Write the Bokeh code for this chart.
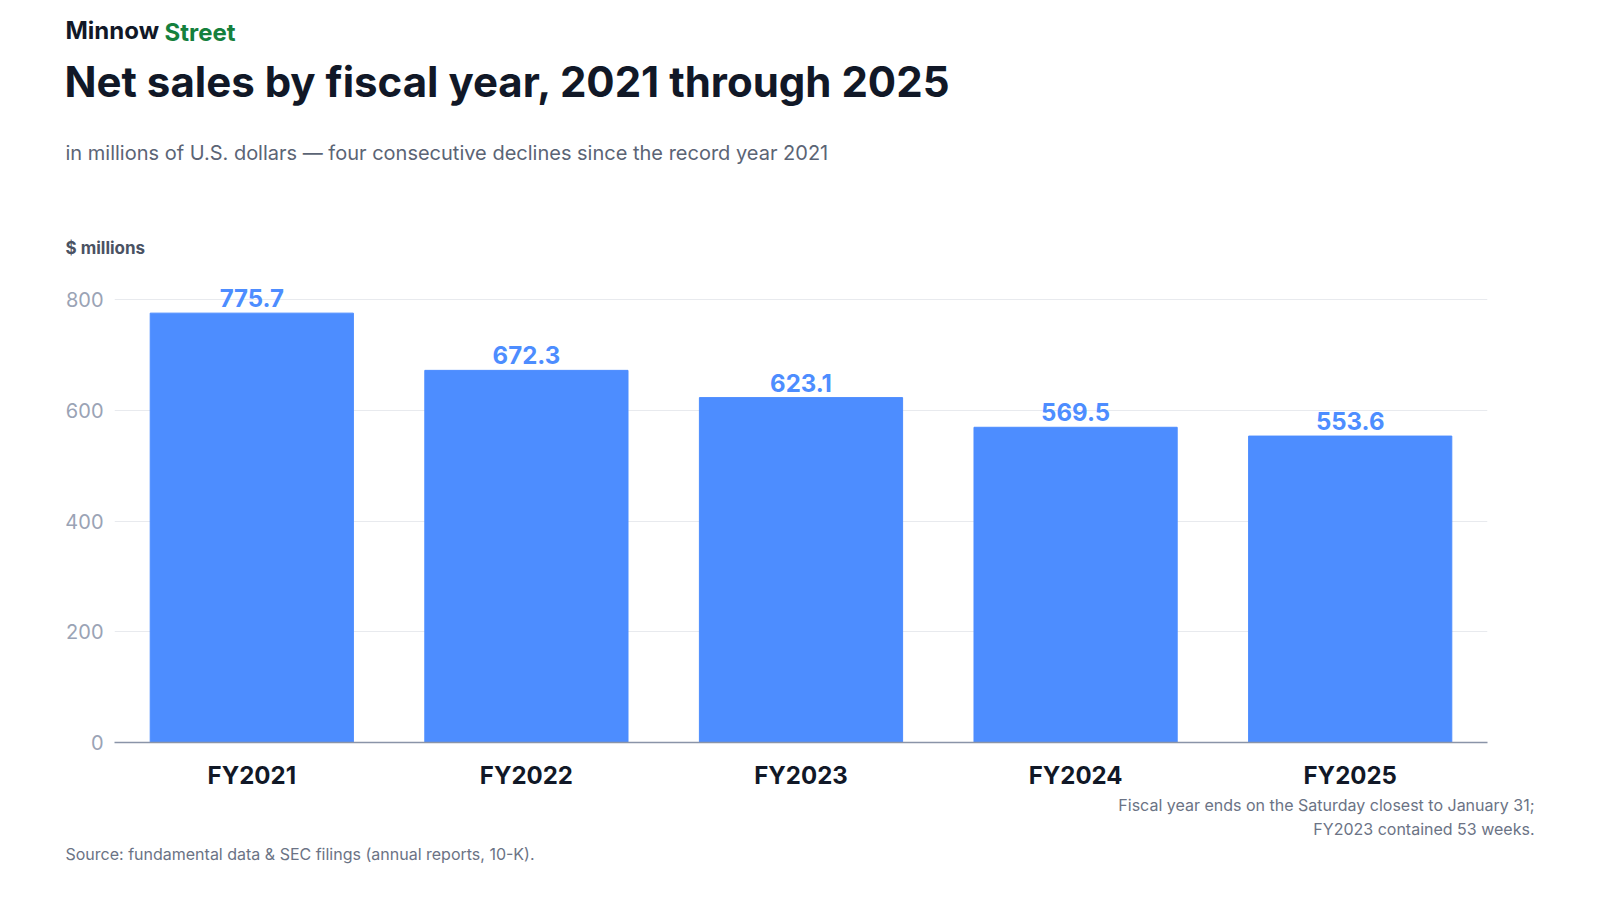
from bokeh.plotting import figure
from bokeh.models import Title, ColumnDataSource
from bokeh.embed import file_html
from bokeh.resources import INLINE

years = ["FY2021", "FY2022", "FY2023", "FY2024", "FY2025"]
sales = [775.7, 672.3, 623.1, 569.5, 553.6]
labels = [f"{v:.1f}" for v in sales]

W = 1584
F = "Inter"

src = ColumnDataSource(dict(x=years, y=sales, t=labels))
p = figure(x_range=years, y_range=(0, 822), width=W, frame_height=455, output_backend="svg",
           toolbar_location=None, min_border_left=114, min_border_right=97,
           min_border_top=0, min_border_bottom=0, outline_line_color=None)
p.vbar(x="x", top="y", width=0.74, source=src, color="#4D8DFF")
p.text(x="x", y="y", text="t", source=src, text_align="center", text_baseline="bottom",
       y_offset=-6, text_color="#4D8DFF", text_font_size="24px", text_font_style="bold",
       text_font={"value": F})
p.xgrid.grid_line_color = None
p.ygrid.grid_line_color = "#E8EAEE"
p.yaxis.ticker = [0, 200, 400, 600, 800]
p.yaxis.axis_line_color = None
p.yaxis.major_tick_line_color = None
p.yaxis.minor_tick_line_color = None
p.yaxis.major_label_text_font_size = "20px"
p.yaxis.major_label_text_color = "#9AA3B5"
p.yaxis.major_label_text_font = F
p.xaxis.axis_line_color = "#8A94A8"
p.xaxis.axis_line_width = 1.5
p.xaxis.major_tick_line_color = None
p.xaxis.major_label_text_font_size = "24px"
p.xaxis.major_label_text_font_style = "bold"
p.xaxis.major_label_text_color = "#111827"
p.xaxis.major_label_text_font = F
p.xaxis.major_label_standoff = 12

def title(place, text, size, color, bold=False, align="left", offset=-49, standoff=10):
    p.add_layout(Title(text=text, text_font=F, text_font_size=f"{size}px", text_color=color,
                       text_font_style="bold" if bold else "normal", align=align,
                       offset=offset, standoff=standoff), place)

# above: first added sits closest to the plot
title("above", "$ millions", 17, "#4A5263", True, standoff=60)
title("above", "in millions of U.S. dollars \u2014 four consecutive declines since the record year 2021", 20, "#5B6475", standoff=81)
title("above", "Net sales by fiscal year, 2021 through 2025", 42, "#111827", True, offset=-50, standoff=-17)
title("above", "Street", 24, "#15803D", True, offset=50, standoff=31)
title("above", "Minnow", 24, "#111827", True, standoff=-88)
title("above", "", 10, "#FFFFFF", standoff=73)

# below: first added sits closest to the plot
title("below", "Fiscal year ends on the Saturday closest to January 31;", 16, "#6B7385", align="right", offset=-47, standoff=0)
title("below", "FY2023 contained 53 weeks.", 16, "#6B7385", align="right", offset=-47, standoff=4)
title("below", "Source: fundamental data & SEC filings (annual reports, 10-K).", 16, "#6B7385", standoff=2)
title("below", "", 10, "#FFFFFF", standoff=6)

open("out.html", "w").write(file_html(p, INLINE))
